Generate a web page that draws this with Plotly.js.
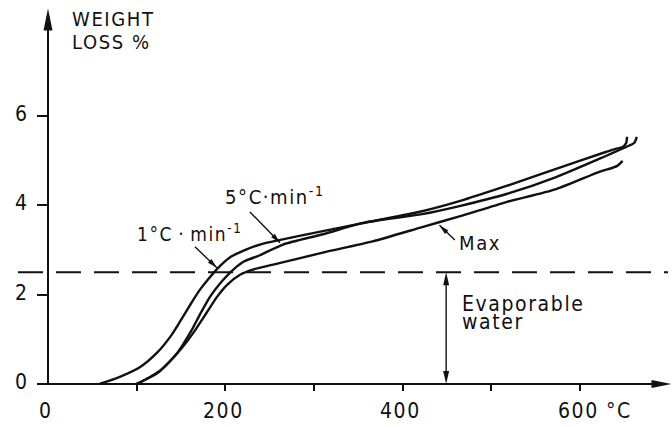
<!DOCTYPE html>
<html>
<head>
<meta charset="utf-8">
<script src="https://cdn.plot.ly/plotly-3.0.1.min.js"></script>
<style>
  html, body { margin: 0; padding: 0; background: #fff; }
  #chart { width: 672px; height: 427px; }
  .annotation-text { letter-spacing: 1.6px; }
</style>
</head>
<body>
<div id="chart"></div>
<script>
// ---- Data (temperature °C, weight loss %) ----
const temp1 = [58, 81, 104, 123, 138, 149, 160, 171, 183, 190, 205, 224, 239, 254, 310, 366, 423, 464, 517, 573, 629, 640, 648, 652, 653];
const loss1 = [0, 0.16, 0.38, 0.70, 1.06, 1.40, 1.76, 2.10, 2.40, 2.56, 2.83, 3.01, 3.12, 3.19, 3.42, 3.64, 3.87, 4.09, 4.43, 4.81, 5.19, 5.26, 5.30, 5.39, 5.53];

const temp5 = [99, 110, 124, 146, 161, 172, 183, 194, 209, 222, 239, 265, 310, 359, 422, 464, 517, 573, 629, 645, 655, 661, 664];
const loss5 = [0, 0.10, 0.25, 0.70, 1.17, 1.58, 1.96, 2.25, 2.56, 2.75, 2.88, 3.12, 3.35, 3.62, 3.80, 3.98, 4.25, 4.63, 5.10, 5.24, 5.33, 5.39, 5.53];

const tempMax = [101, 127, 149, 164, 179, 191, 202, 217, 231, 254, 310, 366, 422, 464, 517, 573, 621, 642, 648];
const lossMax = [0, 0.31, 0.76, 1.15, 1.60, 1.96, 2.22, 2.45, 2.56, 2.67, 2.94, 3.19, 3.51, 3.75, 4.07, 4.36, 4.74, 4.88, 4.99];

const evaporableLevel = 2.5;
const evaporableTemp = 449;

const xTickVals = [100, 200, 300, 400, 500, 600];
const xLabelVals = [0, 200, 400, 600];
const xLabelText = ['0', '200', '400', '600'];
const yTickVals = [0, 2, 4, 6];
const yTickText = ['0', '2', '4', '6'];

const xUnit = '°C';
const yTitle = ['WEIGHT', 'LOSS %'];
const label1 = '1°C\u2009·\u2009min<sup>-1</sup>';
const label5 = '5°C·min<sup>-1</sup>';
const labelMax = 'Max';
const evapText = ['Evaporable', 'water'];

// ---- Layout geometry ----
const W = 672, H = 427;
const margin = {l: 48, r: 0, t: 0, b: 43};
const plotW = W - margin.l - margin.r;
const plotH = H - margin.t - margin.b;
const xRange = [0, 703.7];
const yRange = [0, 8.59];
const pxX = plotW / (xRange[1] - xRange[0]);
const pxY = plotH / (yRange[1] - yRange[0]);

const FONT = '"DejaVu Sans Condensed", "Liberation Sans", sans-serif';
const INK = '#111';

function curve(x, y) {
  return {
    x: x, y: y, type: 'scatter', mode: 'lines',
    line: {color: INK, width: 2.4, shape: 'spline', smoothing: 0.7},
    hoverinfo: 'skip', showlegend: false
  };
}

// filled arrowhead drawn in pixel units anchored at the tip
function head(xTip, yTip, xTail, yTail, len, wid, xref, yref, scaleX, scaleY) {
  const dx = (xTip - xTail) * scaleX;
  const dy = (yTip - yTail) * scaleY;
  const n = Math.hypot(dx, dy);
  const ux = dx / n, uy = dy / n;
  const nx = -uy, ny = ux;
  const bx = -len * ux, by = -len * uy;
  const p1x = bx + nx * wid / 2, p1y = by + ny * wid / 2;
  const p2x = bx - nx * wid / 2, p2y = by - ny * wid / 2;
  return {
    type: 'path', xref: xref, yref: yref,
    xsizemode: 'pixel', ysizemode: 'pixel',
    xanchor: xTip, yanchor: yTip,
    path: `M0,0 L${p1x.toFixed(2)},${p1y.toFixed(2)} L${p2x.toFixed(2)},${p2y.toFixed(2)} Z`,
    fillcolor: INK, line: {width: 0}, layer: 'above'
  };
}

function pointer(xTail, yTail, xTip, yTip) {
  return [
    {type: 'line', xref: 'x', yref: 'y', x0: xTail, y0: yTail, x1: xTip, y1: yTip,
     line: {color: INK, width: 1.4}, layer: 'above'},
    head(xTip, yTip, xTail, yTail, 10, 5, 'x', 'y', pxX, pxY)
  ];
}

const paperX = px => (px - margin.l) / plotW;
const paperY = py => (margin.t + plotH - py) / plotH;
const yLevelPaper = (evaporableLevel - yRange[0]) / (yRange[1] - yRange[0]);

const shapes = [
  // y axis with arrow
  {type: 'line', xref: 'paper', yref: 'paper', x0: 0, y0: 0, x1: 0, y1: paperY(20),
   line: {color: INK, width: 2}, layer: 'above'},
  head(0, paperY(8.5), 0, 0, 22, 9, 'paper', 'paper', plotW, plotH),
  // x axis with arrow
  {type: 'line', xref: 'paper', yref: 'paper', x0: paperX(46), y0: 0, x1: paperX(660), y1: 0,
   line: {color: INK, width: 2}, layer: 'above'},
  head(paperX(671.5), 0, 0, 0, 20, 8, 'paper', 'paper', plotW, plotH),
  // evaporable water dashed level
  {type: 'line', xref: 'paper', yref: 'paper', x0: paperX(18), y0: yLevelPaper, x1: paperX(668), y1: yLevelPaper,
   line: {color: INK, width: 2, dash: '25px,13px'}, layer: 'above'},
  // double arrow
  {type: 'line', xref: 'x', yref: 'y', x0: evaporableTemp, y0: 0.2, x1: evaporableTemp, y1: evaporableLevel - 0.2,
   line: {color: INK, width: 1.4}, layer: 'above'},
  head(evaporableTemp, evaporableLevel, evaporableTemp, 0, 13, 6, 'x', 'y', pxX, pxY),
  head(evaporableTemp, 0, evaporableTemp, evaporableLevel, 13, 6, 'x', 'y', pxX, pxY),
  ...pointer(165.7, 3.07, 190.5, 2.60),
  ...pointer(227.7, 3.85, 261.6, 3.16),
  ...pointer(458.8, 3.22, 441.5, 3.55)
];

function txt(text, x, y, size, xanchor, extra) {
  return Object.assign({
    text: text, x: x, y: y, xref: 'x', yref: 'y', showarrow: false,
    xanchor: xanchor || 'left', yanchor: 'middle',
    font: {family: FONT, size: size, color: INK}
  }, extra || {});
}

const annotations = [
  txt(yTitle[0], 24.8, 8.16, 20),
  txt(yTitle[1], 24.8, 7.65, 20),
  txt(label1, 98, 3.37, 19),
  txt(label5, 197.3, 4.21, 20),
  txt(labelMax, 461, 3.16, 20),
  txt(evapText[0], 464.5, 1.80, 21),
  txt(evapText[1], 464.5, 1.39, 21),
  txt(xUnit, 644, 0, 21, 'center', {yref: 'paper', yshift: -27})
];
xLabelVals.forEach((v, i) => {
  annotations.push(txt(xLabelText[i], v, 0, 21, 'center', {yref: 'paper', yshift: -27, xshift: -2}));
});
yTickVals.forEach((v, i) => {
  annotations.push(txt(yTickText[i], 0, v, 21, 'center', {xref: 'paper', xshift: -26, yshift: 2}));
});

const layout = {
  width: W, height: H,
  margin: margin,
  paper_bgcolor: '#fff', plot_bgcolor: '#fff',
  showlegend: false,
  xaxis: {
    range: xRange, showgrid: false, zeroline: false, showline: false,
    tickvals: xTickVals, ticks: 'outside', ticklen: 6, tickwidth: 2, tickcolor: INK,
    showticklabels: false, fixedrange: true
  },
  yaxis: {
    range: yRange, showgrid: false, zeroline: false, showline: false,
    tickvals: yTickVals, ticks: 'outside', ticklen: 10, tickwidth: 2, tickcolor: INK,
    showticklabels: false, fixedrange: true
  },
  shapes: shapes,
  annotations: annotations
};

Plotly.newPlot('chart', [curve(temp1, loss1), curve(temp5, loss5), curve(tempMax, lossMax)], layout,
  {displayModeBar: false, staticPlot: true});
</script>
</body>
</html>
